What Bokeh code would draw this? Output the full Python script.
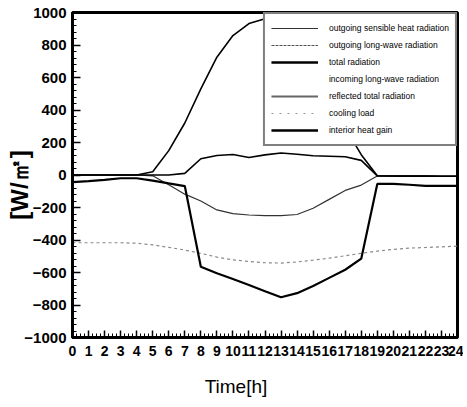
from bokeh.plotting import figure
from bokeh.models import FixedTicker, Legend, LegendItem
from bokeh.embed import file_html
from bokeh.resources import INLINE

# ---- data ----
hours = list(range(0, 25))
total_radiation = [0, 0, 0, 0, 0, 20, 150, 320, 530, 725, 858, 932, 962, 955, 885, 745, 545, 290, 125, -5, -6, -7, -7, -8, -8]
interior_heat_gain = [0, 0, 0, 0, 0, 0, 0, 10, 100, 120, 126, 108, 124, 135, 128, 118, 115, 112, 90, -5, -6, -7, -7, -8, -8]
outgoing_sensible = [0, 0, 0, 0, 0, -5, -60, -118, -160, -215, -238, -246, -250, -250, -243, -205, -150, -95, -62, -6, -7, -8, -8, -8, -9]
cooling_load = [-44, -38, -30, -20, -20, -35, -52, -68, -565, -605, -640, -677, -715, -752, -727, -683, -633, -583, -515, -55, -55, -60, -67, -67, -67]
outgoing_longwave = [-417, -417, -417, -417, -420, -430, -445, -462, -482, -505, -522, -532, -540, -542, -535, -524, -512, -497, -482, -468, -458, -450, -446, -442, -438]
no_values = [float("nan")] * 25

legend_labels = ["outgoing sensible heat radiation", "outgoing long-wave radiation",
                 "total radiation", "incoming long-wave radiation",
                 "reflected total radiation", "cooling load", "interior heat gain"]

x_ticks = list(range(0, 25))
x_minor = [i / 4 for i in range(0, 97) if i % 4]
y_ticks = list(range(-1000, 1001, 200))
y_minor = [v for v in range(-1000, 1001, 40) if v % 200]
y_tick_labels = {t: (str(t) if t >= 0 else "\u2212" + str(-t)) for t in y_ticks}

W, H = 463, 404
BL, BR, BT, BB = 72, 6, 12, 67

p = figure(width=W, height=H, x_range=(x_ticks[0], x_ticks[-1]),
           y_range=(y_ticks[0], y_ticks[-1]),
           output_backend="svg", toolbar_location=None,
           min_border_left=BL, min_border_right=BR, min_border_top=BT, min_border_bottom=BB)
p.background_fill_color = "white"
p.border_fill_color = "white"
p.grid.visible = False
p.outline_line_color = "black"
p.outline_line_width = 3
p.outline_line_alpha = 1.0

# axes
xa = p.xaxis[0]
xa.ticker = FixedTicker(ticks=x_ticks, minor_ticks=x_minor)
xa.major_label_text_font = "Liberation Sans"
xa.major_label_text_font_style = "bold"
xa.major_label_text_font_size = "14px"
xa.major_label_text_color = "black"
xa.major_label_standoff = 8
xa.axis_line_color = "#000000"
xa.axis_line_width = 3
xa.major_tick_line_color = "#000000"
xa.minor_tick_line_color = "#000000"
xa.major_tick_line_width = 1.5
xa.major_tick_in = 7
xa.major_tick_out = 0
xa.minor_tick_in = 4
xa.minor_tick_out = 0
xa.axis_label = "Time[h]" + "\u00a0" * 11
xa.axis_label_text_font = "Liberation Sans"
xa.axis_label_text_font_style = "normal"
xa.axis_label_text_font_size = "19px"
xa.axis_label_text_color = "black"
xa.axis_label_standoff = 17

ya = p.yaxis[0]
ya.ticker = FixedTicker(ticks=y_ticks, minor_ticks=y_minor)
ya.major_label_overrides = y_tick_labels
ya.major_label_text_font = "Liberation Sans"
ya.major_label_text_font_style = "bold"
ya.major_label_text_font_size = "15px"
ya.major_label_text_color = "black"
ya.major_label_standoff = 6
ya.axis_line_color = "#000000"
ya.axis_line_width = 3
ya.major_tick_line_color = "#000000"
ya.minor_tick_line_color = "#000000"
ya.major_tick_line_width = 1.5
ya.major_tick_in = 8
ya.major_tick_out = 0
ya.minor_tick_in = 4
ya.minor_tick_out = 0
ya.axis_label = "[W/\u33a1]" + "\u00a0" * 3
ya.axis_label_text_font = "Liberation Sans"
ya.axis_label_text_font_style = "bold"
ya.axis_label_text_font_size = "24px"
ya.axis_label_text_color = "black"
ya.axis_label_standoff = -12

# data curves
p.line(hours, outgoing_longwave, line_color="#8a8a8a", line_width=1.2, line_dash="3 3")
p.line(hours, outgoing_sensible, line_color="#333333", line_width=1.2)
p.line(hours, total_radiation, line_color="black", line_width=1.6)
p.line(hours, interior_heat_gain, line_color="black", line_width=1.6)
p.line(hours, cooling_load, line_color="black", line_width=2.2)

# legend samples (hidden renderers that only supply the legend line styles)
legend_series = [outgoing_sensible, outgoing_longwave, total_radiation, no_values,
                 no_values, cooling_load, interior_heat_gain]
sample_styles = [
    dict(line_color="#333333", line_width=1.2),
    dict(line_color="#555555", line_width=1.2, line_dash="3 1"),
    dict(line_color="black", line_width=2.5),
    dict(line_color="white", line_width=1, line_alpha=0),
    dict(line_color="#666666", line_width=2),
    dict(line_color="#9a9a9a", line_width=1.2, line_dash="2 6"),
    dict(line_color="black", line_width=2.5),
]
items = []
for lab, ser, st in zip(legend_labels, legend_series, sample_styles):
    r = p.line(hours, ser, visible=False, **st)
    items.append(LegendItem(label=lab, renderers=[r]))

legend = Legend(items=items, location="top_right", margin=0, padding=6,
                spacing=1, glyph_width=47, glyph_height=16, label_height=16,
                label_standoff=11, label_text_font="Liberation Sans",
                label_text_font_size="8.5px", label_text_color="black",
                border_line_color="black", border_line_width=2,
                background_fill_color="white", background_fill_alpha=1.0)
p.add_layout(legend, "center")

open("out.html", "w").write(file_html(p, INLINE))
